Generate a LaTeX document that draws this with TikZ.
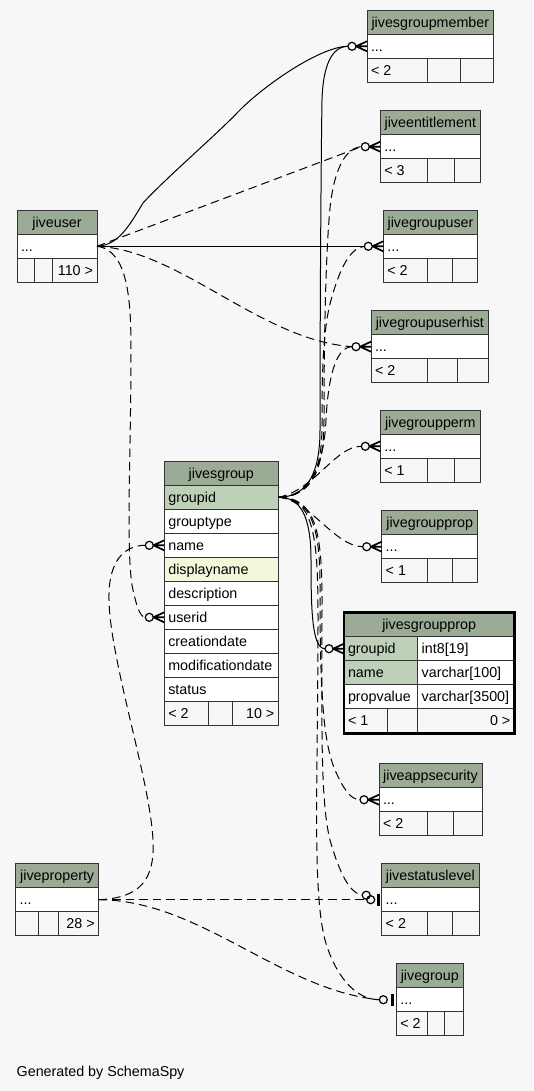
\documentclass[tikz,border=0pt]{standalone}
\usepackage{fontspec}
\setmainfont{Liberation Sans}
\definecolor{bgc}{HTML}{F7F7F7}
\definecolor{hdr}{HTML}{9BAB96}
\definecolor{pkc}{HTML}{BED1B8}
\definecolor{idx}{HTML}{F4F7DA}
\definecolor{brd}{HTML}{333333}
\tikzset{
  cellbox/.style={draw=brd, line width=1pt, inner sep=0pt, outer sep=0pt, anchor=north west, rectangle},
  txt/.style={inner sep=0pt, outer sep=0pt, font=\fontsize{14.3}{16}\selectfont, text=black},
  rel/.style={line width=1pt, black},
  opt/.style={rel, dash pattern=on 8.5pt off 5pt},
  mk/.style={line width=1.7pt, black},
  ring/.style={draw=black, line width=1.2pt, fill=bgc},
  ringo/.style={draw=black, line width=1.2pt},
}
% simple table: name, x1, x2, ytop, d1, d2, header, footer-left, footer-right
\newcommand{\stable}[9]{%
  \pgfmathsetmacro\tw{#3-#2}%
  \pgfmathsetmacro\fa{#5-#2}%
  \pgfmathsetmacro\fb{#6-#5}%
  \pgfmathsetmacro\fc{#3-#6}%
  \node[cellbox, fill=hdr, minimum width=\tw pt, minimum height=24pt] (#1-h) at (#2,#4) {};
  \node[txt, anchor=base] (#1-ht) at ([yshift=-4.8pt]#1-h.center) {#7};
  \node[cellbox, fill=white, minimum width=\tw pt, minimum height=24pt] (#1-d) at (#2,#4+24) {};
  \node[txt, anchor=base west] (#1-dt) at ([xshift=4pt,yshift=-4.8pt]#1-d.west) {...};
  \node[cellbox, fill=bgc, minimum width=\fa pt, minimum height=24pt] (#1-fa) at (#2,#4+48) {};
  \node[cellbox, fill=bgc, minimum width=\fb pt, minimum height=24pt] (#1-fb) at (#5,#4+48) {};
  \node[cellbox, fill=bgc, minimum width=\fc pt, minimum height=24pt] (#1-fc) at (#6,#4+48) {};
  \node[txt, anchor=base west] (#1-fat) at ([xshift=4pt,yshift=-4.8pt]#1-fa.west) {#8};
  \node[txt, anchor=base east] (#1-fct) at ([xshift=-4pt,yshift=-4.8pt]#1-fc.east) {#9};
}
% row cell: name, x, y, width, fill, text
\newcommand{\rowcell}[6]{%
  \node[cellbox, fill=#5, minimum width=#4pt, minimum height=24pt] (#1) at (#2,#3) {};
  \node[txt, anchor=base west] (#1-t) at ([xshift=4pt,yshift=-4.8pt]#1.west) {#6};
}
% crow's foot with open ring at the west side of a row node
\newcommand{\crowo}[1]{%
  \draw[mk] ([xshift=-11pt]#1.west) -- ([yshift=5pt]#1.west)
            ([xshift=-11pt]#1.west) -- ([yshift=-5pt]#1.west)
            ([xshift=-11pt]#1.west) -- (#1.west);
  \draw[ring] ([xshift=-15pt]#1.west) circle[radius=4pt];
}
% bar with open ring
\newcommand{\teeo}[1]{%
  \draw[line width=3pt] ([xshift=-3.4pt,yshift=6pt]#1.west) -- ([xshift=-3.4pt,yshift=-6pt]#1.west);
  \draw[ring] ([xshift=-13pt]#1.west) circle[radius=4pt];
}
\begin{document}
\begin{tikzpicture}[x=1pt,y=-1pt]
\useasboundingbox (0,0) rectangle (533,1091);
\fill[bgc] (0,0) rectangle (533,1091);

% ---------------- tables ----------------
\stable{jesm}{367}{493.7}{10.3}{427}{460.7}{jivesgroupmember}{< 2}{}
\stable{jent}{380.3}{480.3}{110.7}{427}{454}{jiveentitlement}{< 3}{}
\stable{jgu}{383.3}{477.7}{210.3}{427}{452.7}{jivegroupuser}{< 2}{}
\stable{jguh}{371}{488.7}{310.7}{427}{457.7}{jivegroupuserhist}{< 2}{}
\stable{jgperm}{380.3}{480.3}{410.3}{427}{454}{jivegroupperm}{< 1}{}
\stable{jgprop}{381.7}{477.7}{510.7}{427}{452.7}{jivegroupprop}{< 1}{}
\stable{jas}{379}{482}{763.7}{427}{453.7}{jiveappsecurity}{< 2}{}
\stable{jsl}{381.7}{479}{863.7}{427}{452.7}{jivestatuslevel}{< 2}{}
\stable{jg}{396.3}{463.3}{963.7}{427}{444.7}{jivegroup}{< 2}{}
\stable{ju}{17}{97}{210.3}{34.7}{52}{jiveuser}{}{110 >}
\stable{jp}{15.7}{98.7}{863.7}{38.3}{58.7}{jiveproperty}{}{28 >}

% jivesgroup
\node[cellbox, fill=hdr, minimum width=114pt, minimum height=24pt] (jsg-h) at (164.3,461.3) {};
\node[txt, anchor=base] (jsg-ht) at ([yshift=-4.8pt]jsg-h.center) {jivesgroup};
\rowcell{jsg-groupid}{164.3}{485.3}{114}{pkc}{groupid}
\rowcell{jsg-grouptype}{164.3}{509.3}{114}{white}{grouptype}
\rowcell{jsg-name}{164.3}{533.3}{114}{white}{name}
\rowcell{jsg-displayname}{164.3}{557.3}{114}{idx}{displayname}
\rowcell{jsg-description}{164.3}{581.3}{114}{white}{description}
\rowcell{jsg-userid}{164.3}{605.3}{114}{white}{userid}
\rowcell{jsg-creationdate}{164.3}{629.3}{114}{white}{creationdate}
\rowcell{jsg-modificationdate}{164.3}{653.3}{114}{white}{modificationdate}
\rowcell{jsg-status}{164.3}{677.3}{114}{white}{status}
\rowcell{jsg-fa}{164.3}{701.3}{44}{bgc}{< 2}
\rowcell{jsg-fb}{208.3}{701.3}{24}{bgc}{}
\node[cellbox, fill=bgc, minimum width=46pt, minimum height=24pt] (jsg-fc) at (232.3,701.3) {};
\node[txt, anchor=base east] (jsg-fct) at ([xshift=-4pt,yshift=-4.8pt]jsg-fc.east) {10 >};

% jivesgroupprop (focus table)
\node[cellbox, fill=hdr, minimum width=170.3pt, minimum height=23.9pt] (jsgp-h) at (344,612.8) {};
\node[txt, anchor=base] (jsgp-ht) at ([yshift=-4.8pt]jsgp-h.center) {jivesgroupprop};
\rowcell{jsgp-groupid}{344}{636.7}{73.7}{pkc}{groupid}
\rowcell{jsgp-groupidtype}{417.7}{636.7}{96.6}{white}{int8[19]}
\rowcell{jsgp-name}{344}{660.7}{73.7}{pkc}{name}
\rowcell{jsgp-nametype}{417.7}{660.7}{96.6}{white}{varchar[100]}
\rowcell{jsgp-propvalue}{344}{684.7}{73.7}{white}{propvalue}
\rowcell{jsgp-propvaluetype}{417.7}{684.7}{96.6}{white}{varchar[3500]}
\rowcell{jsgp-fa}{344}{708.7}{43.3}{bgc}{< 1}
\rowcell{jsgp-fb}{387.3}{708.7}{30.4}{bgc}{}
\node[cellbox, fill=bgc, minimum width=96.6pt, minimum height=24.6pt] (jsgp-fc) at (417.7,708.7) {};
\node[txt, anchor=base east] (jsgp-fct) at ([xshift=-4pt,yshift=-4.8pt]jsgp-fc.east) {0 >};
\node[draw=black, line width=2.7pt, inner sep=0pt, outer sep=0pt, anchor=north west,
      minimum width=170.3pt, minimum height=120.5pt] (jsgp-frame) at (344,612.8) {};

\node[txt, anchor=base west] (gen) at (16.7,1076) {Generated by SchemaSpy};

% ---------------- connector end points ----------------
\coordinate (jesm-in) at ([xshift=-19pt]jesm-d.west);
\coordinate (jent-in) at ([xshift=-19pt]jent-d.west);
\coordinate (jgu-in) at ([xshift=-19pt]jgu-d.west);
\coordinate (jguh-in) at ([xshift=-19pt]jguh-d.west);
\coordinate (jgperm-in) at ([xshift=-19pt]jgperm-d.west);
\coordinate (jgprop-in) at ([xshift=-19pt]jgprop-d.west);
\coordinate (jas-in) at ([xshift=-19pt]jas-d.west);
\coordinate (jsg-name-in) at ([xshift=-19pt]jsg-name.west);
\coordinate (jsg-userid-in) at ([xshift=-19pt]jsg-userid.west);
\coordinate (jsgp-groupid-in) at ([xshift=-19pt]jsgp-groupid.west);
\coordinate (jg-in) at ([xshift=-17pt]jg-d.west);
\coordinate (jsl-ina) at ([xshift=-15pt]jsl-d.west);
\coordinate (jsl-inb) at ([xshift=-19.5pt,yshift=4.5pt]jsl-d.west);

% ---------------- connectors ----------------
% from jiveuser
\draw[rel] (ju-d.east) .. controls (118,245) and (128,228) .. (143,203)
   .. controls (165,179) and (216,135) .. (238,112)
   .. controls (263,86) and (320,46.5) .. (jesm-in);
\draw[opt] (ju-d.east) -- (jent-in);
\draw[rel] (ju-d.east) -- (jgu-in);
\draw[opt] (ju-d.east) .. controls (180,250) and (260,340) .. (jguh-in);
\draw[opt] (ju-d.east) .. controls (128,250) and (131,300) .. (131,350)
   .. controls (131,450) and (126,545) .. (132,585)
   .. controls (136,605) and (140,617.3) .. (jsg-userid-in);
% from jiveproperty
\draw[opt] (jp-d.east) .. controls (140,898) and (155,880) .. (153,840)
   .. controls (150,780) and (110,660) .. (109,600)
   .. controls (108,560) and (125,545.3) .. (jsg-name-in);
\draw[opt] (jp-d.east) -- (jsl-ina);
\draw[opt] (jp-d.east) .. controls (200,900) and (280,990) .. (jg-in);
% from jivesgroup.groupid
\draw[rel] (jsg-groupid.east) .. controls (308,497) and (320,472) .. (320,430)
   .. controls (320,320) and (321,160) .. (322,100)
   .. controls (323,65) and (332,46.5) .. (jesm-in);
\draw[opt] (jsg-groupid.east) .. controls (312,497) and (324,470) .. (324,420)
   .. controls (324,330) and (326,250) .. (330,208)
   .. controls (334,170) and (345,148) .. (jent-in);
\draw[opt] (jsg-groupid.east) .. controls (310,497) and (322,472) .. (322,425)
   .. controls (322,370) and (323,330) .. (331,300)
   .. controls (340,268) and (350,248) .. (jgu-in);
\draw[opt] (jsg-groupid.east) .. controls (310,497) and (324,465) .. (326,420)
   .. controls (328,380) and (335,347) .. (jguh-in);
\draw[opt] (jsg-groupid.east) .. controls (315,490) and (335,446.3) .. (jgperm-in);
\draw[opt] (jsg-groupid.east) .. controls (310,500) and (335,546.7) .. (jgprop-in);
\draw[rel] (jsg-groupid.east) .. controls (300,497) and (311,515) .. (311,560)
   .. controls (311,610) and (312,648.7) .. (jsgp-groupid-in);
\draw[opt] (jsg-groupid.east) .. controls (310,497) and (320,525) .. (320,585)
   .. controls (320,680) and (322,740) .. (335,770)
   .. controls (343,788) and (350,799.7) .. (jas-in);
\draw[opt] (jsg-groupid.east) .. controls (315,497) and (322,530) .. (322,600)
   .. controls (322,720) and (320,800) .. (330,840)
   .. controls (340,875) and (350,893) .. (jsl-inb);
\draw[opt] (jsg-groupid.east) .. controls (315,497) and (318,540) .. (318,620)
   .. controls (318,780) and (312,890) .. (325,940)
   .. controls (335,975) and (355,999.8) .. (jg-in);

% ---------------- markers ----------------
\crowo{jesm-d}
\crowo{jent-d}
\crowo{jgu-d}
\crowo{jguh-d}
\crowo{jgperm-d}
\crowo{jgprop-d}
\crowo{jas-d}
\crowo{jsg-name}
\crowo{jsg-userid}
\crowo{jsgp-groupid}
\teeo{jg-d}
\draw[line width=3pt] ([xshift=-3.4pt,yshift=6pt]jsl-d.west) -- ([xshift=-3.4pt,yshift=-6pt]jsl-d.west);
\draw[ringo] ([xshift=-15.5pt,yshift=4.5pt]jsl-d.west) circle[radius=4pt];
\draw[ringo] ([xshift=-11pt]jsl-d.west) circle[radius=4pt];
\end{tikzpicture}
\end{document}
